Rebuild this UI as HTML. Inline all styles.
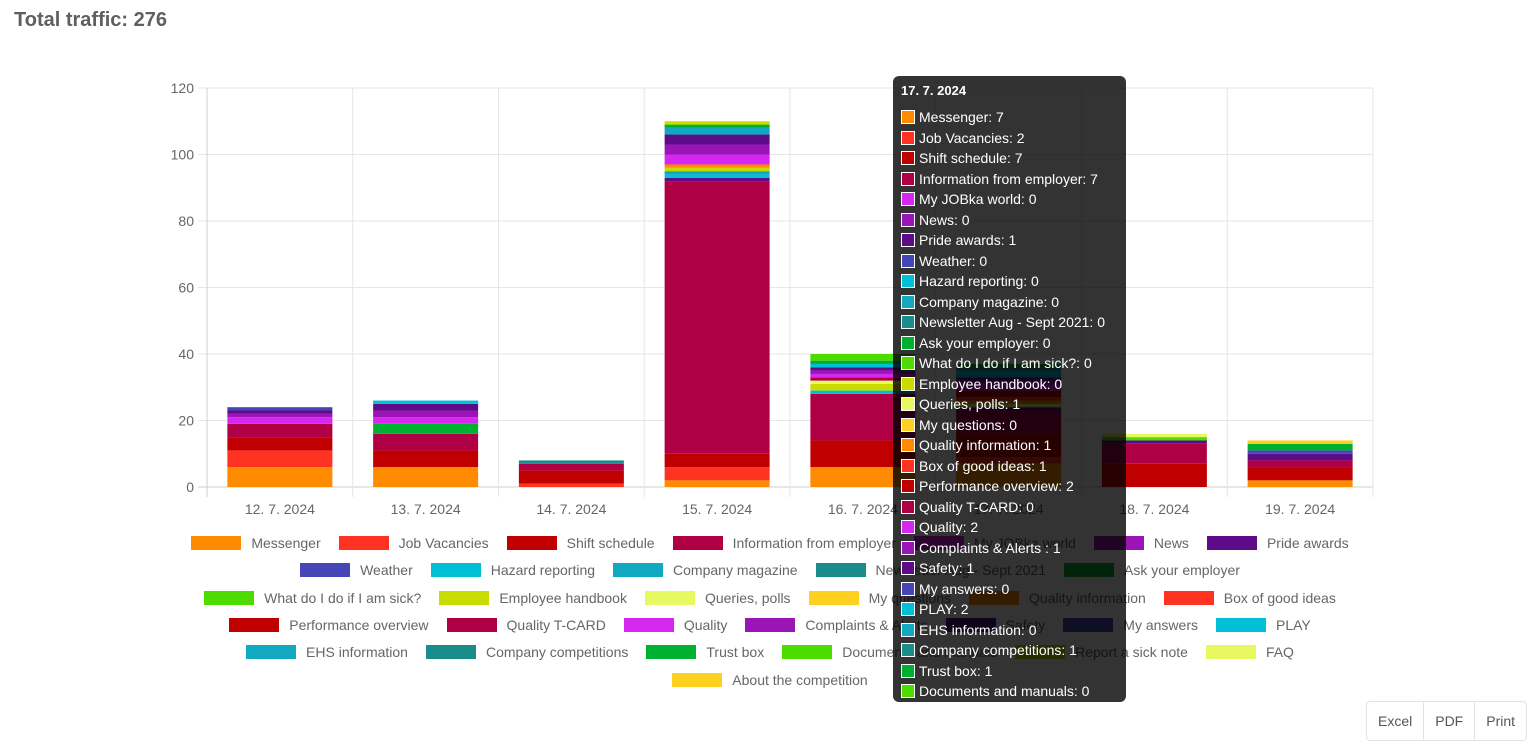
<!DOCTYPE html>
<html><head><meta charset="utf-8">
<style>
body{margin:0;width:1531px;height:742px;background:#fff;font-family:"Liberation Sans",sans-serif;position:relative;overflow:hidden}
#title{position:absolute;left:14px;top:9px;font-size:20px;font-weight:bold;color:#5f5f5f}
#chart{position:absolute;left:0;top:0}
.lrow{position:absolute;left:0;width:1540px;display:flex;justify-content:center;font-size:14px;color:#666;white-space:nowrap}
.li{display:flex;align-items:center;margin:0 9px}
.sw{width:50px;height:14px;margin-right:10px}
#tip{position:absolute;left:893px;top:76px;width:233px;height:626px;background:rgba(0,0,0,0.8);border-radius:6px;color:#fff;font-size:14px}
#tip .t{position:absolute;left:8px;top:7px;font-weight:bold;font-size:13px}
.tl{position:absolute;left:8px;display:flex;align-items:center;white-space:nowrap}
.tl span{display:inline-block;width:12px;height:12px;border:1px solid #fff;margin-right:4px}
#exp{position:absolute;left:1366px;top:701px;height:38px;display:flex;border:1px solid #e3e3e3;border-radius:4px;font-size:14px;color:#555}
#exp div{padding:0 11px;line-height:38px;border-left:1px solid #e3e3e3}
#exp div:first-child{border-left:none}
</style></head><body>
<div id="title">Total traffic: 276</div>
<svg id="chart" width="1531" height="742"></svg>
<div id="legend"></div>
<div id="tip"></div>
<div id="exp">
<div>Excel</div>
<div>PDF</div>
<div>Print</div>
</div>
<script>
const categories=["12. 7. 2024","13. 7. 2024","14. 7. 2024","15. 7. 2024","16. 7. 2024","17. 7. 2024","18. 7. 2024","19. 7. 2024"];
const yTicks=[0,20,40,60,80,100,120];
const seriesNames=["Messenger","Job Vacancies","Shift schedule","Information from employer","My JOBka world","News","Pride awards","Weather","Hazard reporting","Company magazine","Newsletter Aug - Sept 2021","Ask your employer","What do I do if I am sick?","Employee handbook","Queries, polls","My questions","Quality information","Box of good ideas","Performance overview","Quality T-CARD","Quality","Complaints & Alerts ","Safety","My answers","PLAY","EHS information","Company competitions","Trust box","Documents and manuals","Report a sick note","FAQ","About the competition"];
const palette=["#ff8c00","#ff3322","#c00000","#b00045","#d627f0","#9b14b5","#5e0b8a","#4545b8","#00c0d8","#12a8c0","#1b8c8c","#00b030","#4cdc00","#c8dc00","#e8f860","#ffd020"];
const seriesValues=[
[6,6,0,2,6,7,0,2],[5,0,1,4,0,2,0,0],[4,5,4,4,8,7,7,4],[4,5,2,82,14,7,6,2],
[2,0,0,0,0,0,0,0],[1,0,0,0,0,0,0,0],[1,0,0,1,0,1,0,0],[1,0,0,0,0,0,0,0],
[0,0,0,1,1,0,0,0],[0,0,0,1,0,0,0,0],[0,0,1,0,0,0,0,0],[0,3,0,0,0,0,0,0],
[0,0,0,0,0,0,0,0],[0,0,0,1,2,0,0,0],[0,0,0,0,1,1,0,0],[0,0,0,0,0,0,0,0],
[0,0,0,1,0,1,0,0],[0,0,0,0,0,1,0,0],[0,0,0,0,0,2,0,0],[0,0,0,0,1,0,0,0],
[0,2,0,3,1,2,0,0],[0,2,0,3,1,1,0,0],[0,2,0,3,1,1,1,2],[0,0,0,0,0,0,0,1],
[0,1,0,0,1,2,0,0],[0,0,0,2,0,0,0,0],[0,0,0,0,0,1,0,0],[0,0,0,1,1,1,0,2],
[0,0,0,0,2,0,1,0],[0,0,0,1,0,0,0,0],[0,0,0,0,0,0,1,0],[0,0,0,0,0,0,0,1]];
const legendRows=[7,5,6,7,6,1];
const tipIndex=5;

const NS="http://www.w3.org/2000/svg";
const svg=document.getElementById('chart');
const X0=207,X1=1373,Y0=487,Y1=88,YMAX=120;
const bw=(X1-X0)/categories.length;
const y=v=>Y0-(v/YMAX)*(Y0-Y1);
const xc=i=>X0+bw*(i+0.5);
function mk(t,a){const e=document.createElementNS(NS,t);for(const k in a)e.setAttribute(k,a[k]);svg.appendChild(e);return e;}
yTicks.forEach(t=>{
 const l=mk('line',{x1:198,x2:X1,y1:y(t),y2:y(t),stroke:t===0?'#cfcfcf':'#e6e6e6','stroke-width':1});
 
 
 const tx=mk('text',{x:194,y:y(t)+5,'text-anchor':'end','font-size':14,fill:'#666','font-family':'Liberation Sans'});
 tx.textContent=t;
 
 
});
for(let i=0;i<=categories.length;i++){
 const l=mk('line',{x1:X0+bw*i,x2:X0+bw*i,y1:Y1,y2:Y0+10,stroke:i===0?'#cfcfcf':'#e6e6e6','stroke-width':1});
 
 
}
categories.forEach((c,i)=>{
 const tx=mk('text',{x:xc(i),y:514,'text-anchor':'middle','font-size':14,fill:'#666','font-family':'Liberation Sans'});
 tx.textContent=c;
 
 
 let acc=0;
 seriesValues.forEach((vals,s)=>{
  const v=vals[i]; if(!v)return;
  const r=mk('rect',{x:xc(i)-52.5,width:105,y:y(acc+v),height:y(acc)-y(acc+v),fill:palette[s%16]});
  
  
  acc+=v;
 });
});
const lg=document.getElementById('legend');
let idx=0;
legendRows.forEach((n,r)=>{
 const row=document.createElement('div');row.className='lrow';row.style.top=(535+r*27.3)+'px';
 
 
 for(let k=0;k<n;k++,idx++){
  const it=document.createElement('div');it.className='li';
  
  
  it.innerHTML='<div class="sw" style="background:'+palette[idx%16]+'"></div>'+seriesNames[idx];
  row.appendChild(it);
 }
 lg.appendChild(row);
});
const tip=document.getElementById('tip');
const tt=document.createElement('div');tt.className='t';tt.textContent=categories[tipIndex];


tip.appendChild(tt);
for(let s=0;s<29;s++){
 const d=document.createElement('div');d.className='tl';d.style.top=(33+s*20.5)+'px';
 
 
 d.innerHTML='<span style="background:'+palette[s%16]+'"></span>'+seriesNames[s]+': '+seriesValues[s][tipIndex];
 tip.appendChild(d);
}
</script>
</body></html>
